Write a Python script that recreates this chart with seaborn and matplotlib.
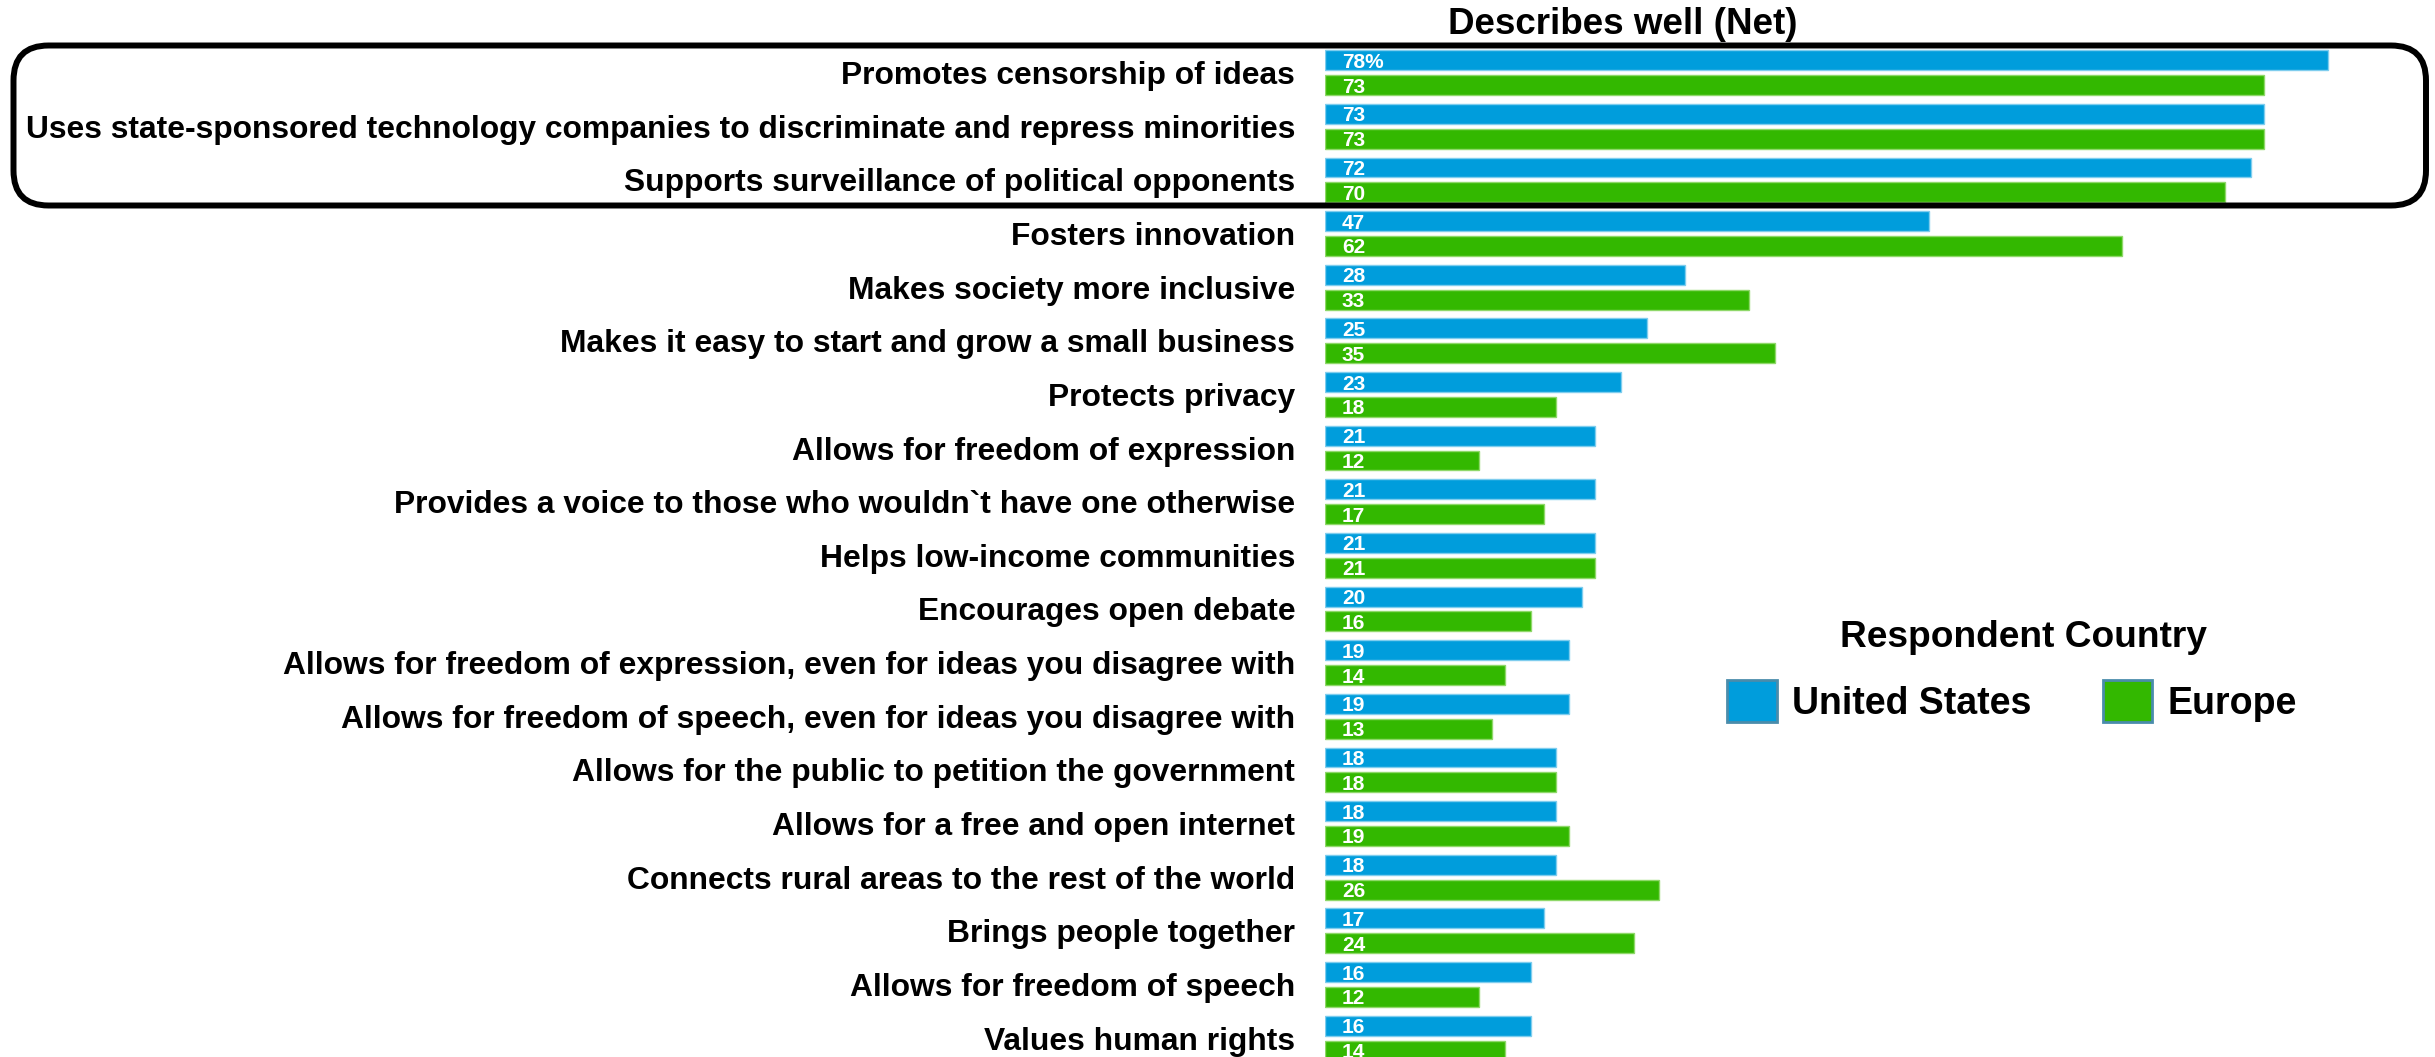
import matplotlib
matplotlib.use("Agg")
import matplotlib.pyplot as plt
import matplotlib.transforms as mtransforms
from matplotlib.patches import FancyBboxPatch
import seaborn as sns
import pandas as pd

categories = [
    "Promotes censorship of ideas",
    "Uses state-sponsored technology companies to discriminate and repress minorities",
    "Supports surveillance of political opponents",
    "Fosters innovation",
    "Makes society more inclusive",
    "Makes it easy to start and grow a small business",
    "Protects privacy",
    "Allows for freedom of expression",
    "Provides a voice to those who wouldn`t have one otherwise",
    "Helps low-income communities",
    "Encourages open debate",
    "Allows for freedom of expression, even for ideas you disagree with",
    "Allows for freedom of speech, even for ideas you disagree with",
    "Allows for the public to petition the government",
    "Allows for a free and open internet",
    "Connects rural areas to the rest of the world",
    "Brings people together",
    "Allows for freedom of speech",
    "Values human rights",
]
us_values = [78, 73, 72, 47, 28, 25, 23, 21, 21, 21, 20, 19, 19, 18, 18, 18, 17, 16, 16]
europe_values = [73, 73, 70, 62, 33, 35, 18, 12, 17, 21, 16, 14, 13, 18, 19, 26, 24, 12, 14]
series_names = ["United States", "Europe"]
series_colors = ["#009DDC", "#33B800"]
series_edges = ["#7FCDEE", "#8FD86A"]

df = pd.DataFrame({
    "Statement": categories * 2,
    "Country": [series_names[0]] * len(categories) + [series_names[1]] * len(categories),
    "Value": us_values + europe_values,
})

sns.set_style("white")
plt.rcParams["font.family"] = ["Liberation Sans", "DejaVu Sans"]
plt.rcParams["text.color"] = "black"
plt.rcParams["ytick.color"] = "black"
plt.rcParams["axes.labelcolor"] = "black"

W, H, DPI = 2435, 1057, 100
fig = plt.figure(figsize=(W / DPI, H / DPI), dpi=DPI)

px_per_unit = 12.86
row_pitch = 53.64
ax_left_px = 1325
ax_top_px = 72.6 - 0.5 * row_pitch
y_bottom = 18 + (H - (72.6 + 18 * row_pitch)) / row_pitch
ax = fig.add_axes([ax_left_px / W, 0, (W - ax_left_px) / W, (H - ax_top_px) / H])

sns.barplot(
    data=df, y="Statement", x="Value", hue="Country", order=categories,
    hue_order=series_names, palette=series_colors, orient="h",
    width=0.926, gap=0.2, saturation=1, errorbar=None, ax=ax, legend=True,
)

ax.set_xlim(0, (W - ax_left_px) / px_per_unit)
ax.set_ylim(y_bottom, -0.5)
ax.set_xlabel("")
ax.set_ylabel("")
ax.set_xticks([])
for s in ax.spines.values():
    s.set_visible(False)
ax.tick_params(axis="y", length=0, pad=21.5)
for t in ax.get_yticklabels():
    t.set_fontsize(22.9)
    t.set_fontweight("bold")
    t.set_color("black")

# light outline and value labels on every bar
offset = mtransforms.offset_copy(ax.transData, fig=fig, x=17, y=0, units="dots")
for ci, (container, vals) in enumerate(zip(ax.containers, [us_values, europe_values])):
    for k, (bar, v) in enumerate(zip(container.patches, vals)):
        bar.set_edgecolor(series_edges[ci])
        bar.set_linewidth(1.0)
        label = f"{v}%" if (ci == 0 and k == 0) else f"{v}"
        ax.text(bar.get_x(), bar.get_y() + bar.get_height() / 2, label,
                transform=offset, ha="left", va="center_baseline",
                color="white", fontsize=15, fontweight="bold", clip_on=True)

# legend: swatches and names, with its heading set above them
handles, labels = ax.get_legend_handles_labels()
ax.get_legend().remove()
leg = fig.legend(
    handles, labels, ncol=2, frameon=False,
    loc="lower left", bbox_to_anchor=(1727 / W, 1 - 722 / H),
    fontsize=27, handlelength=1.33, handleheight=1.33,
    handletextpad=0.4, columnspacing=1.9, borderpad=0, borderaxespad=0,
)
for t in leg.get_texts():
    t.set_fontweight("bold")
    t.set_color("black")
for h in leg.legend_handles:
    h.set_edgecolor("#4A8CAB")
    h.set_linewidth(2)
fig.text(2024 / W, 1 - 647 / H, "Respondent Country", ha="center", va="baseline",
         fontsize=26.7, fontweight="bold", color="black")

fig.text(1623 / W, 1 - 25 / H, "Describes well (Net)", ha="center", va="center",
         fontsize=26.5, fontweight="bold", color="black")

# rounded frame around the top three statements
box = FancyBboxPatch(
    (13.5 / DPI, (H - 205.5) / DPI), (2426 - 13.5) / DPI, 160 / DPI,
    boxstyle="round,pad=0,rounding_size=0.35", transform=fig.dpi_scale_trans,
    facecolor="none", edgecolor="black", linewidth=4.3, zorder=10,
)
fig.add_artist(box)

fig.savefig("out.png", dpi=DPI)
